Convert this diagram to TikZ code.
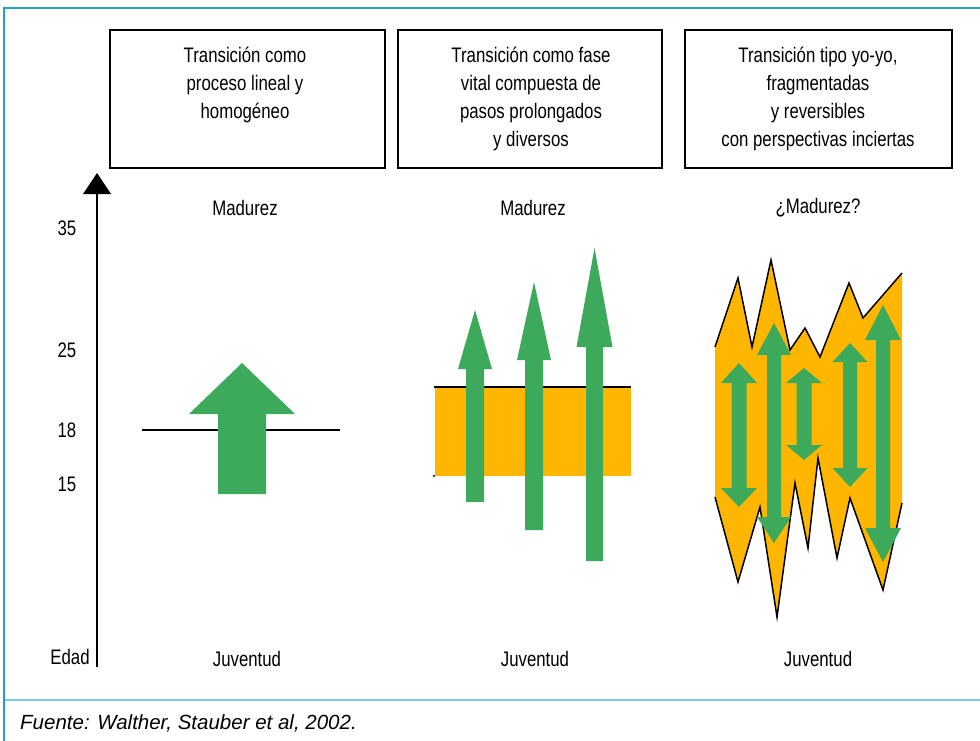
\documentclass[tikz,border=0pt]{standalone}
\usepackage{fontspec}
\setmainfont{Liberation Sans}
\newfontfamily\lblfont[FakeStretch=0.8]{Liberation Sans}
\definecolor{grn}{RGB}{60,170,90}
\definecolor{org}{RGB}{255,182,0}
\definecolor{tealA}{RGB}{38,160,196}
\definecolor{tealB}{RGB}{122,204,220}
\newcommand\GreenSingle[6]{\fill[grn] (#1,#4) -- ({#1+#3},#5) -- ({#1+#2},#5) -- ({#1+#2},#6) -- ({#1-#2},#6) -- ({#1-#2},#5) -- ({#1-#3},#5) -- cycle;}
\newcommand\GreenDouble[7]{\fill[grn] (#1,#4) -- ({#1+#3},#5) -- ({#1+#2},#5) -- ({#1+#2},#6) -- ({#1+#3},#6) -- (#1,#7) -- ({#1-#3},#6) -- ({#1-#2},#6) -- ({#1-#2},#5) -- ({#1-#3},#5) -- cycle;}
\begin{document}
\begin{tikzpicture}[x=1pt,y=-1pt,
  lbl/.style={font=\lblfont\fontsize{21}{28}\selectfont, inner sep=0pt, align=center},
  hdrbox/.style={draw, line width=1.6pt, inner sep=0pt},
  blkline/.style={line width=1.6pt}]
\useasboundingbox (0,0) rectangle (980,741);
% frame
\draw[tealB, line width=1.6pt] (4,700) -- (980,700);
\draw[tealA, line width=1.8pt] (980,8) -- (4,8) -- (4,741);
% header boxes
\node[hdrbox, minimum width=275pt, minimum height=138pt] (b1) at (247.5,99) {};
\node[hdrbox, minimum width=264pt, minimum height=138pt] (b2) at (530,99) {};
\node[hdrbox, minimum width=267pt, minimum height=138pt] (b3) at (818.5,99) {};
\node[lbl, anchor=north] (t1) at (245,47) {Transición como\\proceso lineal y\\homogéneo};
\node[lbl, anchor=north] (t2) at (531,47) {Transición como fase\\vital compuesta de\\pasos prolongados\\y diversos};
\node[lbl, anchor=north] (t3) at (818,47) {Transición tipo yo-yo,\\fragmentadas\\y reversibles\\con perspectivas inciertas};
% axis
\coordinate (axbot) at (97,667);
\coordinate (axbase) at (97,194);
\coordinate (axtip) at (97,173);
\draw[line width=2.2pt] (axbot) -- (axbase);
\fill (axtip) -- (111,194) -- (83,194) -- cycle;
\node[lbl] (n35) at (67,228) {35};
\node[lbl] (n25) at (67,350) {25};
\node[lbl] (n18) at (67,430) {18};
\node[lbl] (n15) at (67,484) {15};
\node[lbl] (edad) at (70,657) {Edad};
% column labels
\node[lbl] (m1) at (245,208) {Madurez};
\node[lbl] (m2) at (533,208) {Madurez};
\node[lbl] (m3) at (818,208) {¿Madurez?};
\node[lbl] (j1) at (247,659) {Juventud};
\node[lbl] (j2) at (535,659) {Juventud};
\node[lbl] (j3) at (818,659) {Juventud};
% panel 1
\draw[blkline] (142,430) -- (340,430);
\GreenSingle{242}{24}{53}{363}{414}{494}
% panel 2
\fill[org] (435,387) rectangle (631,476);
\draw[blkline] (434,387) -- (631,387);
\fill (434,476) circle (1.2pt);
\GreenSingle{475}{9}{17}{310}{369}{502}
\GreenSingle{534}{9}{17}{282}{360}{530}
\GreenSingle{594.5}{8.5}{18}{248}{347}{561}
% panel 3
\fill[org] (715,347) -- (738,278) -- (752,347) -- (771,260) -- (790,350) -- (805,328) -- (820,357) -- (849,283) -- (863,318) -- (902,273)
  -- (902,503) -- (883,590) -- (850,498) -- (837,558) -- (818,458) -- (808,548) -- (795,483) -- (777,617) -- (760,507) -- (738,582) -- (715,497) -- cycle;
\draw[line width=1.5pt, line join=miter] (715,347) -- (738,278) -- (752,347) -- (771,260) -- (790,350) -- (805,328) -- (820,357) -- (849,283) -- (863,318) -- (902,273);
\draw[line width=1.5pt, line join=miter] (902,503) -- (883,590) -- (850,498) -- (837,558) -- (818,458) -- (808,548) -- (795,483) -- (777,617) -- (760,507) -- (738,582) -- (715,497);
\GreenDouble{739}{7.5}{18}{363}{383}{488}{507}
\GreenDouble{774}{7}{17}{323}{355}{517}{543}
\GreenDouble{804}{7.5}{18}{368}{383}{445}{460}
\GreenDouble{850}{7}{17.5}{343}{362}{468}{487}
\GreenDouble{883}{7}{18}{305}{340}{528}{562}
% footer
\node[font=\itshape\fontsize{20.5}{22}\selectfont, inner sep=0pt, anchor=base west] (src) at (20,729) {Fuente: Walther, Stauber et al, 2002.};
\end{tikzpicture}
\end{document}
